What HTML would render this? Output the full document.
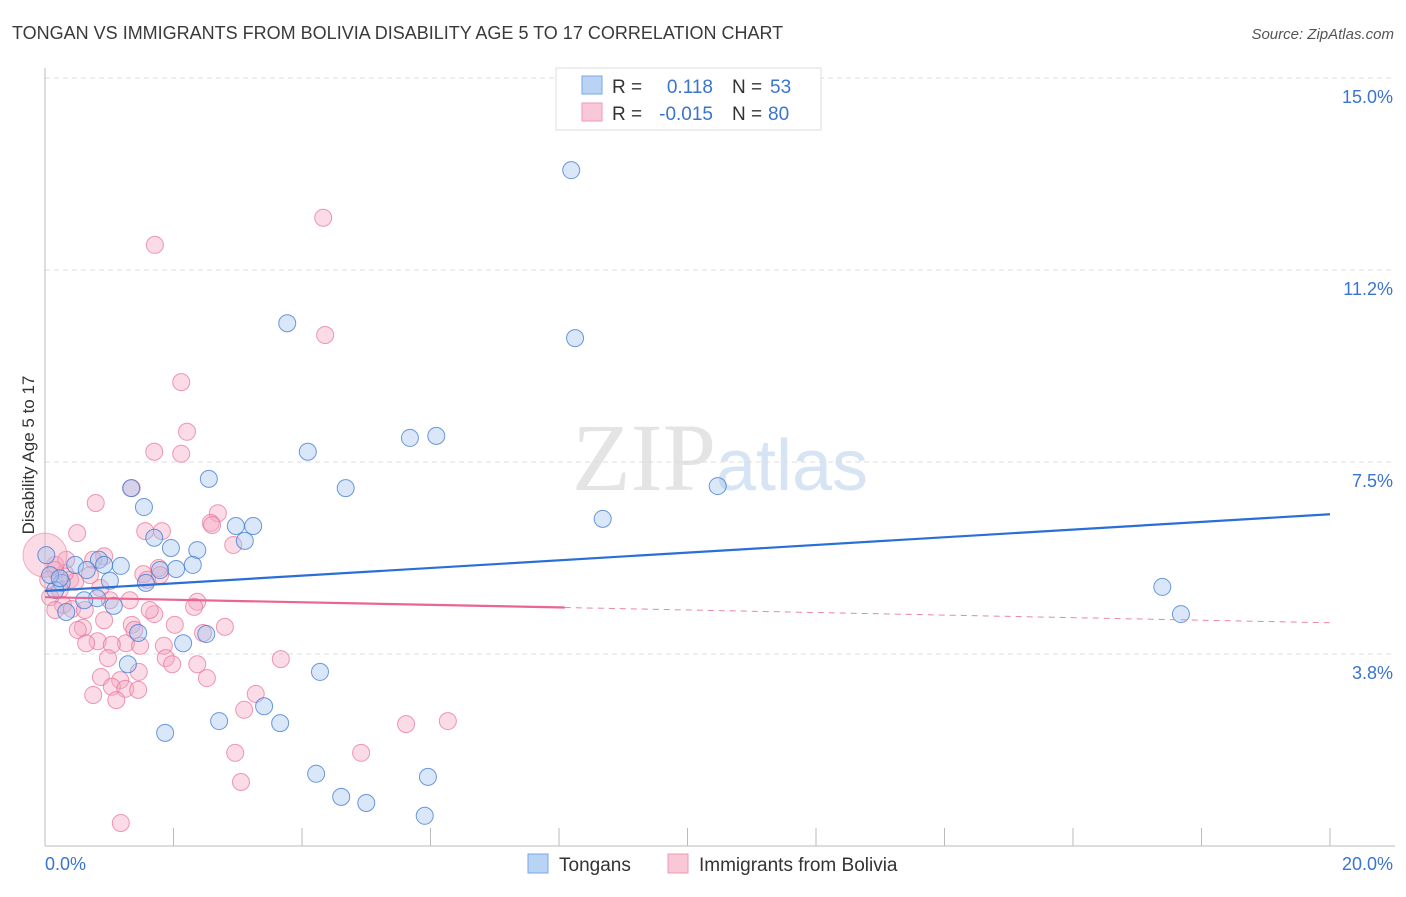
<!DOCTYPE html>
<html><head><meta charset="utf-8"><style>
body{margin:0;background:#fff;font-family:"Liberation Sans",sans-serif}
</style></head><body>
<svg id="c" width="1406" height="892" xmlns="http://www.w3.org/2000/svg" font-family="Liberation Sans, sans-serif">
<text x="12" y="39" font-size="18" fill="#3a3a3a">TONGAN VS IMMIGRANTS FROM BOLIVIA DISABILITY AGE 5 TO 17 CORRELATION CHART</text>
<text x="1394" y="39" font-size="15" fill="#555" font-style="italic" text-anchor="end">Source: ZipAtlas.com</text>
<text x="720" y="490" font-size="96" fill="#e4e4e4" text-anchor="middle" font-family="Liberation Serif, serif">ZIP<tspan fill="#d6e4f3" font-family="Liberation Sans, sans-serif" font-size="72">atlas</tspan></text>
<text transform="translate(34,455) rotate(-90)" font-size="17" fill="#333" text-anchor="middle">Disability Age 5 to 17</text>
<g id="grid"></g><g id="axes"></g><g id="pts"></g><g id="lines"></g>
<g>
<rect x="556" y="68" width="265" height="62" fill="#fff" stroke="#ddd"/>
<rect x="582" y="76" width="20" height="18" fill="#b9d3f5" stroke="#7aa6e6"/>
<rect x="582" y="103" width="20" height="18" fill="#f9c8d6" stroke="#ee9ab4"/>
<text x="612" y="93" font-size="19" fill="#333">R =</text><text x="713" y="93" font-size="19" fill="#3a74d0" text-anchor="end">0.118</text>
<text x="732" y="93" font-size="19" fill="#333">N =</text><text x="770" y="93" font-size="19" fill="#3a74d0">53</text>
<text x="612" y="120" font-size="19" fill="#333">R =</text><text x="713" y="120" font-size="19" fill="#3a74d0" text-anchor="end">-0.015</text>
<text x="732" y="120" font-size="19" fill="#333">N =</text><text x="768" y="120" font-size="19" fill="#3a74d0">80</text>
</g>
<g>
<rect x="528" y="854" width="20" height="19" fill="#b9d3f5" stroke="#7aa6e6"/>
<text x="559" y="871" font-size="19" fill="#333">Tongans</text>
<rect x="668" y="854" width="20" height="19" fill="#f9c8d6" stroke="#ee9ab4"/>
<text x="699" y="871" font-size="19" fill="#333">Immigrants from Bolivia</text>
</g>
</svg>
<script>
const yTicks=[15.0,11.25,7.5,3.75];
const yTickLabels=["15.0%","11.2%","7.5%","3.8%"];
const xTickVals=[0,2,4,6,8,10,12,14,16,18,20];
const blueX=[8.19,3.77,8.25,4.09,5.68,6.09,4.68,10.47,8.68,2.55,1.34,1.54,1.70,2.97,3.24,3.11,1.96,2.37,0.84,0.92,1.18,0.47,0.65,2.04,2.30,1.79,1.57,1.01,0.26,0.16,0.81,1.07,0.33,1.45,2.51,2.15,1.29,4.28,3.41,2.71,3.66,1.87,4.22,4.61,5.00,5.96,5.91,17.39,17.68,0.08,0.23,0.61,0.02];
const blueY=[13.2,10.21,9.92,7.70,7.97,8.01,6.99,7.03,6.39,7.17,6.99,6.62,6.02,6.25,6.25,5.96,5.82,5.78,5.59,5.49,5.47,5.49,5.39,5.41,5.49,5.39,5.14,5.18,5.14,5.00,4.84,4.69,4.57,4.16,4.14,3.96,3.55,3.40,2.73,2.44,2.40,2.21,1.41,0.96,0.84,1.35,0.59,5.06,4.53,5.29,5.23,4.80,5.68];
const pinkX=[4.33,1.71,4.36,2.12,2.21,1.70,2.12,1.35,0.79,2.69,2.58,0.50,1.56,1.82,2.93,0.92,0.75,1.77,1.53,1.59,0.16,0.39,0.86,0.47,0.23,0.28,0.42,2.37,2.32,1.70,1.35,2.02,0.59,0.51,2.80,2.46,0.82,0.64,1.26,1.04,1.48,1.85,1.39,1.88,0.98,1.98,2.37,3.67,2.52,1.17,0.87,1.04,1.25,1.45,0.75,1.11,3.28,3.10,5.62,6.27,2.96,4.92,3.05,1.18,0.08,0.31,0.16,0.62,1.63,2.60,1.79,0.16,0.05,1.01,0.70,1.32,0.92,0.33,1.46];
const pinkY=[12.27,11.74,9.98,9.06,8.09,7.70,7.66,6.99,6.70,6.50,6.31,6.11,6.15,6.15,5.88,5.66,5.59,5.43,5.31,5.20,5.49,5.20,5.04,5.16,5.00,4.71,4.63,4.77,4.67,4.53,4.32,4.32,4.26,4.22,4.28,4.16,4.00,3.96,3.96,3.93,3.91,3.91,4.22,3.67,3.67,3.55,3.55,3.65,3.28,3.24,3.30,3.11,3.07,3.05,2.95,2.85,2.97,2.66,2.38,2.44,1.82,1.82,1.25,0.45,4.86,5.33,5.39,4.61,4.61,6.27,5.29,4.61,5.20,4.80,5.29,4.80,4.41,5.59,3.40];
const blueTrend=[4.98,6.48];
const pinkTrend=[4.86,4.36];
const pinkSolidEnd=8.09;
const X0=45,X1=1330,Y0=846,Y1=78;
const xs=v=>X0+v/20*(X1-X0);
const ys=v=>Y0-v/15*(Y0-Y1);
const NS="http://www.w3.org/2000/svg";
function mk(tag,attrs,parent){const e=document.createElementNS(NS,tag);for(const k in attrs)e.setAttribute(k,attrs[k]);document.getElementById(parent).appendChild(e);return e;}
yTicks.forEach((t,i)=>{
  const l=mk('line',{x1:X0,x2:1395,y1:ys(t),y2:ys(t),stroke:'#dcdcdc','stroke-dasharray':'5,4'},'grid');
  
  
  const tx=mk('text',{x:1393,y:ys(t)+25,'font-size':18,fill:'#3a74d0','text-anchor':'end'},'grid');
  tx.textContent=yTickLabels[i];
  
  
});
const ax=mk('line',{x1:X0,x2:1395,y1:Y0,y2:Y0,stroke:'#bbb'},'axes');


const ay=mk('line',{x1:X0,x2:X0,y1:68,y2:Y0,stroke:'#bbb'},'axes');


xTickVals.forEach(t=>{
  const l=mk('line',{x1:xs(t),x2:xs(t),y1:828,y2:Y0,stroke:'#bbb'},'axes');
  
  
});
const xl0=mk('text',{x:45,y:870,'font-size':18,fill:'#3a74d0'},'axes');xl0.textContent='0.0%';


const xl1=mk('text',{x:1393,y:870,'font-size':18,fill:'#3a74d0','text-anchor':'end'},'axes');xl1.textContent='20.0%';


pinkX.forEach((x,i)=>{
  const c=mk('circle',{cx:xs(x),cy:ys(pinkY[i]),r:8.5,fill:'rgba(246,168,192,0.4)',stroke:'rgba(232,110,150,0.7)','stroke-width':1},'pts');
  
  
});
const big=mk('circle',{cx:xs(0),cy:ys(5.68),r:22,fill:'rgba(246,168,192,0.4)',stroke:'rgba(232,110,150,0.5)'},'pts');


blueX.forEach((x,i)=>{
  const c=mk('circle',{cx:xs(x),cy:ys(blueY[i]),r:8.5,fill:'rgba(160,196,240,0.4)',stroke:'rgba(60,120,210,0.75)','stroke-width':1},'pts');
  
  
});
const bt=mk('line',{x1:xs(0),y1:ys(blueTrend[0]),x2:xs(20),y2:ys(blueTrend[1]),stroke:'#2a6fd6','stroke-width':2.2},'lines');


const pm=pinkTrend[0]+(pinkTrend[1]-pinkTrend[0])*pinkSolidEnd/20;
const pt=mk('line',{x1:xs(0),y1:ys(pinkTrend[0]),x2:xs(pinkSolidEnd),y2:ys(pm),stroke:'#e8668f','stroke-width':2.2},'lines');


const pd=mk('line',{x1:xs(pinkSolidEnd),y1:ys(pm),x2:xs(20),y2:ys(pinkTrend[1]),stroke:'#e8889f','stroke-width':1,'stroke-dasharray':'6,5'},'lines');


</script>
</body></html>
